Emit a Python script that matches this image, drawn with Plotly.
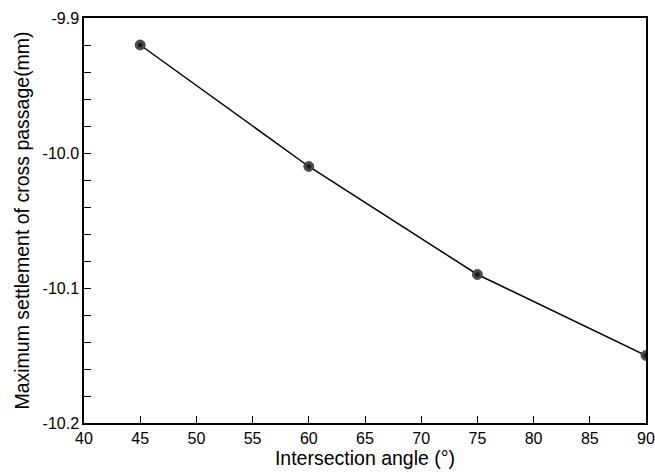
import plotly.graph_objects as go

# Intersection angle (deg) vs. maximum settlement of the cross passage (mm)
angles = [45, 60, 75, 90]
settlement = [-9.920, -10.010, -10.090, -10.150]

x_ticks = [40, 45, 50, 55, 60, 65, 70, 75, 80, 85, 90]
y_ticks = [-10.2, -10.1, -10.0, -9.9]
y_tick_text = ["-10.2", "-10.1", "-10.0", "-9.9"]

font_family = "Liberation Sans, Arial, sans-serif"

fig = go.Figure()
fig.add_trace(go.Scatter(
    x=angles,
    y=settlement,
    mode="lines+markers",
    line=dict(color="black", width=1.5),
    marker=dict(
        size=10,
        color="#6a6a6a",
        gradient=dict(type="radial", color="#050505"),
        line=dict(color="black", width=0.6),
    ),
    cliponaxis=True,
    showlegend=False,
))

axis_common = dict(
    showline=True,
    linecolor="black",
    linewidth=1.5,
    mirror=True,
    ticks="inside",
    ticklen=7,
    tickwidth=1.2,
    tickcolor="black",
    showgrid=False,
    zeroline=False,
    automargin=False,
    tickfont=dict(family=font_family, size=16, color="black"),
)

fig.update_xaxes(
    range=[40, 90],
    tickvals=x_ticks,
    title=dict(text="Intersection angle (°)", font=dict(family=font_family, size=19.5, color="black"), standoff=5),
    **axis_common,
)
fig.update_yaxes(
    range=[-10.2, -9.9],
    tickvals=y_ticks,
    ticktext=y_tick_text,
    minor=dict(ticks="inside", ticklen=7, tickwidth=1.2, tickcolor="black", dtick=0.02, showgrid=False),
    title=dict(text="Maximum settlement of cross passage(mm)", font=dict(family=font_family, size=19.5, color="black"), standoff=8),
    **axis_common,
)

fig.update_layout(
    template="none",
    width=655,
    height=472,
    margin=dict(l=84, r=9, t=18, b=49),
    paper_bgcolor="white",
    plot_bgcolor="white",
)

fig.write_html("out.html")
